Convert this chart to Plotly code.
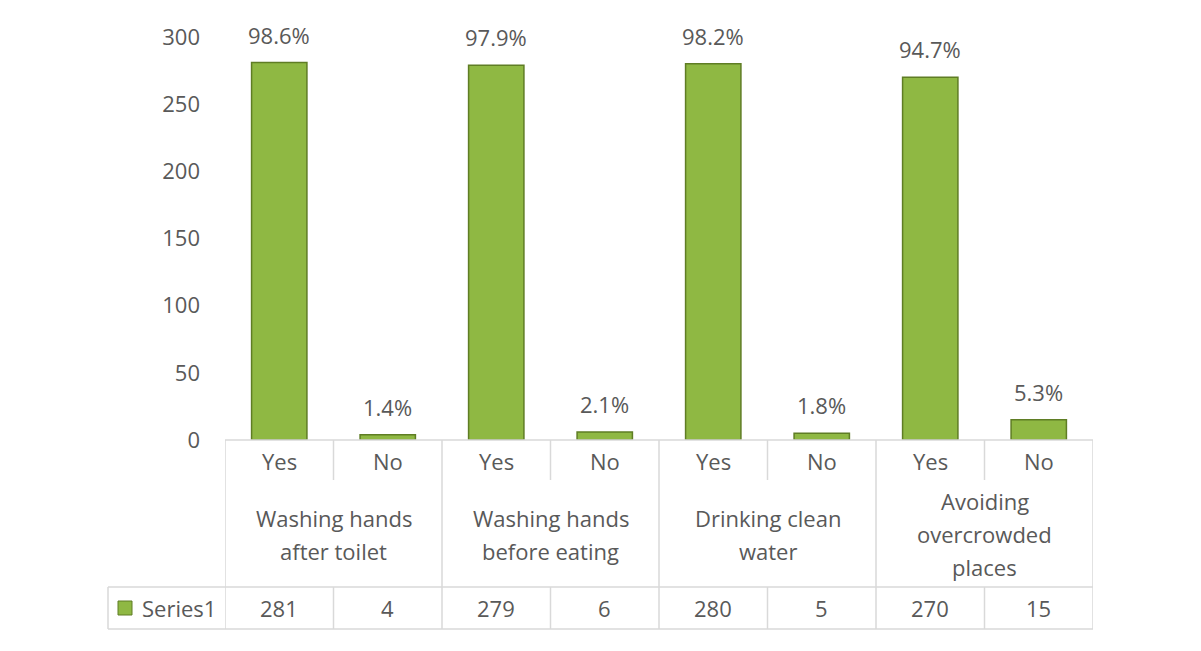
import plotly.graph_objects as go

# 数据
groups = ["Washing hands after toilet", "Washing hands before eating",
          "Drinking clean water", "Avoiding overcrowded places"]
group_lines = [["Washing hands", "after toilet"],
               ["Washing hands", "before eating"],
               ["Drinking clean", "water"],
               ["Avoiding", "overcrowded", "places"]]
answers = ["Yes", "No", "Yes", "No", "Yes", "No", "Yes", "No"]
counts = [281, 4, 279, 6, 280, 5, 270, 15]
pct_labels = ["98.6%", "1.4%", "97.9%", "2.1%", "98.2%", "1.8%", "94.7%", "5.3%"]
series_name = "Series1"
y_ticks = [0, 50, 100, 150, 200, 250, 300]

# 页面有 8px 的 body 边距，按参考图像素坐标换算
OFF = 8
W, H = 1201 - 2 * OFF, 651 - 2 * OFF
PL, PR, PT, PB = 225, 1093, 37, 440  # 参考图中绘图区的像素边界
L, R, T, B = PL - OFF, W - (PR - OFF), PT - OFF, H - (PB - OFF)
TXT = "#595959"
GRID = "#d9d9d9"
FONT = "Open Sans"
FS = 22
GREEN = "#8fb843"
EDGE = "#5f7d24"


def py(p):
    # 参考图像素 y -> paper 坐标
    return (PB - p) / (PB - PT)


def px(p):
    return (p - PL) / (PR - PL)


xs = list(range(len(counts)))

fig = go.Figure()
fig.add_trace(go.Bar(
    x=xs, y=counts,
    marker=dict(color=GREEN, line=dict(color=EDGE, width=1.5)),
    showlegend=False,
))

shapes = []
line = dict(color=GRID, width=1.5)
# 表格外框与分隔线
shapes.append(dict(type="line", xref="paper", yref="paper", x0=0, x1=1, y0=py(440), y1=py(440), line=line))
shapes.append(dict(type="line", xref="paper", yref="paper", x0=px(108), x1=1, y0=py(587), y1=py(587), line=line))
shapes.append(dict(type="line", xref="paper", yref="paper", x0=px(108), x1=1, y0=py(629), y1=py(629), line=line))
shapes.append(dict(type="line", xref="paper", yref="paper", x0=px(108), x1=px(108), y0=py(587), y1=py(629), line=line))
for k in range(len(counts) + 1):
    xv = k - 0.5
    if k % 2 == 0:
        shapes.append(dict(type="line", xref="x", yref="paper", x0=xv, x1=xv, y0=py(440), y1=py(629), line=line))
    else:
        shapes.append(dict(type="line", xref="x", yref="paper", x0=xv, x1=xv, y0=py(440), y1=py(480), line=line))
        shapes.append(dict(type="line", xref="x", yref="paper", x0=xv, x1=xv, y0=py(587), y1=py(629), line=line))

ann = []
tf = dict(family=FONT, size=FS, color=TXT)
base = dict(showarrow=False, font=tf, xanchor="center", yanchor="middle")
# 柱顶百分比标签
for i, c in enumerate(counts):
    ann.append(dict(x=i, y=c, xref="x", yref="y", text=pct_labels[i], showarrow=False,
                    font=tf, xanchor="center", yanchor="bottom", yshift=11))
for i, a in enumerate(answers):
    ann.append(dict(x=i, y=py(461), xref="x", yref="paper", text=a, **base))
    ann.append(dict(x=i, y=py(608), xref="x", yref="paper", text=str(counts[i]), **base))
for g, lines in enumerate(group_lines):
    n = len(lines)
    for j, t in enumerate(lines):
        yc = 534 + (j - (n - 1) / 2) * 33
        ann.append(dict(x=2 * g + 0.5, y=py(yc), xref="x", yref="paper", text=t, **base))
ann.append(dict(x=px(218), y=py(608), xref="paper", yref="paper", text=series_name,
                showarrow=False, font=tf, xanchor="right", yanchor="middle"))
shapes.append(dict(type="rect", xref="paper", yref="paper", x0=px(118), x1=px(132),
                   y0=py(615), y1=py(601), fillcolor=GREEN, line=dict(color=EDGE, width=1)))

fig.update_layout(
    width=W, height=H,
    margin=dict(l=L, r=R, t=T, b=B),
    paper_bgcolor="white", plot_bgcolor="white",
    bargap=0.49,
    shapes=shapes, annotations=ann,
    xaxis=dict(range=[-0.5, len(counts) - 0.5], showticklabels=False, showgrid=False,
               zeroline=False, showline=False, ticks=""),
    yaxis=dict(range=[0, 300], tickvals=y_ticks, showgrid=False, zeroline=False,
               showline=False, ticks="", ticklabelstandoff=24,
               tickfont=dict(family=FONT, size=FS, color=TXT)),
)

fig.write_html("out.html")
